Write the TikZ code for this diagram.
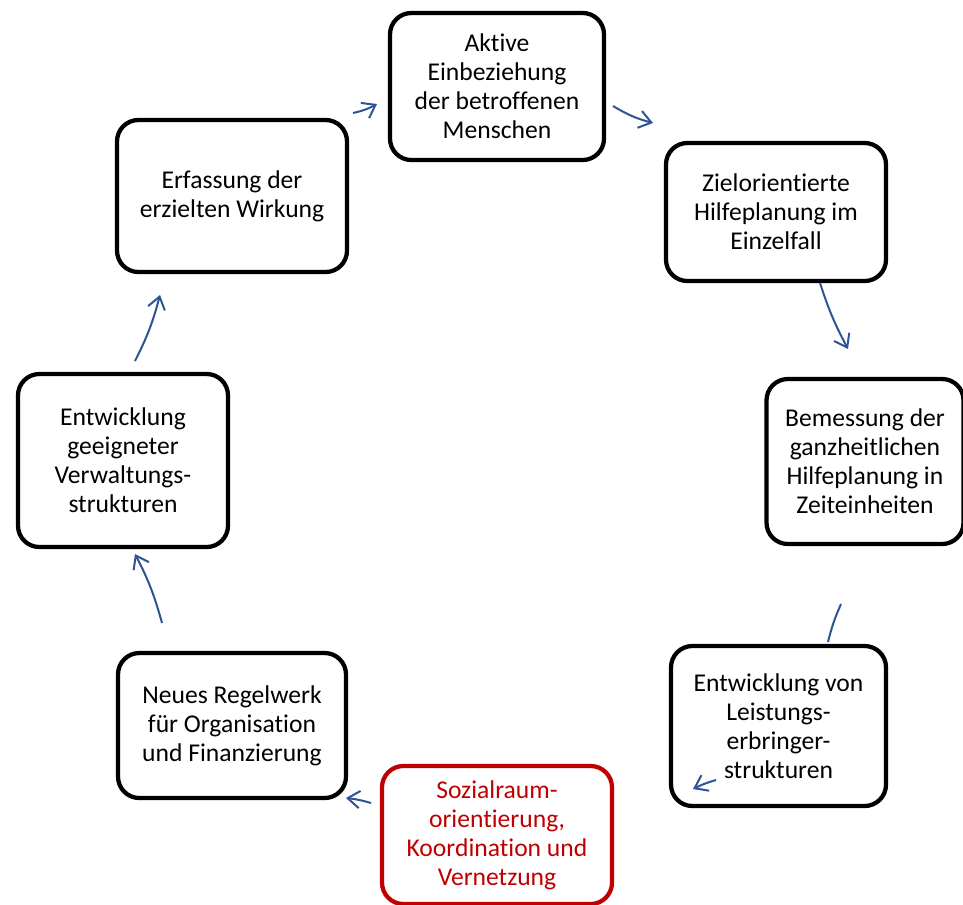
\documentclass[tikz,border=0pt]{standalone}
\usepackage{fontspec}
\setmainfont{Carlito}[Ligatures={NoCommon}]
\usetikzlibrary{arrows.meta,positioning}
\definecolor{arrowblue}{RGB}{47,84,150}
\definecolor{boxred}{RGB}{192,0,0}

\begin{document}
\begin{tikzpicture}[x=0.75pt,y=-0.75pt]
\fontsize{19.2}{21.75}\selectfont
\tikzstyle{box} = [draw, line width=3.2pt, rounded corners=16pt, align=center, inner sep=0pt]
\tikzstyle{flow} = [arrowblue, line width=1.5pt, -{Straight Barb[length=9pt,width=13pt]}]
\useasboundingbox (0,0) rectangle (963,904);
\draw
(497,86.5) node [box,minimum width=160.5pt,minimum height=110.25pt] (aktiv) {Aktive\\Einbeziehung\\der betroffenen\\Menschen}
(776,212) node [box,minimum width=165pt,minimum height=103.5pt] (ziel) {Zielorientierte\\Hilfeplanung im\\Einzelfall}
(865,461.5) node [box,minimum width=147.75pt,minimum height=123.75pt] (bemess) {Bemessung der\\ganzheitlichen\\Hilfeplanung in\\Zeiteinheiten}
(778.5,726) node [box,minimum width=161.25pt,minimum height=120pt] (leist) {Entwicklung von\\Leistungs-\\erbringer-\\strukturen}
(497,835) node [box,draw=boxred,text=boxred,minimum width=172.5pt,minimum height=103.5pt] (sozial) {Sozialraum-\\orientierung,\\Koordination und\\Vernetzung}
(232,725.5) node [box,minimum width=171pt,minimum height=108.75pt] (regel) {Neues Regelwerk\\für Organisation\\und Finanzierung}
(123,460.5) node [box,minimum width=157.5pt,minimum height=129.75pt] (verwalt) {Entwicklung\\geeigneter\\Verwaltungs-\\strukturen}
(232,196) node [box,minimum width=172.5pt,minimum height=114pt] (wirkung) {Erfassung der\\erzielten Wirkung};
% free ends of the arrows
\coordinate (w1) at (353,113); \coordinate (a1) at (377,104);
\coordinate (a2) at (613,106); \coordinate (z1) at (653,123);
\coordinate (z2) at (820,283); \coordinate (b1) at (848,349);
\coordinate (b2) at (841,604); \coordinate (l1) at (828,642);
\coordinate (l2) at (716,780); \coordinate (s1) at (693,789);
\coordinate (s2) at (371,803); \coordinate (r1) at (346,798);
\coordinate (r2) at (162,623); \coordinate (v1) at (135,554);
\coordinate (v2) at (135,361); \coordinate (e1) at (160,295);
\draw[flow] (w1) to[bend right=8] (a1);
\draw[flow] (a2) to[bend right=8] (z1);
\draw[flow] (z2) to[bend right=5] (b1);
\draw[flow,-] (b2) to[bend right=5] (l1);
\draw[flow] (l2) to[bend right=5] (s1);
\draw[flow] (s2) to[bend right=5] (r1);
\draw[flow] (r2) to[bend right=6] (v1);
\draw[flow] (v2) to[bend right=6] (e1);
\end{tikzpicture}
\end{document}
